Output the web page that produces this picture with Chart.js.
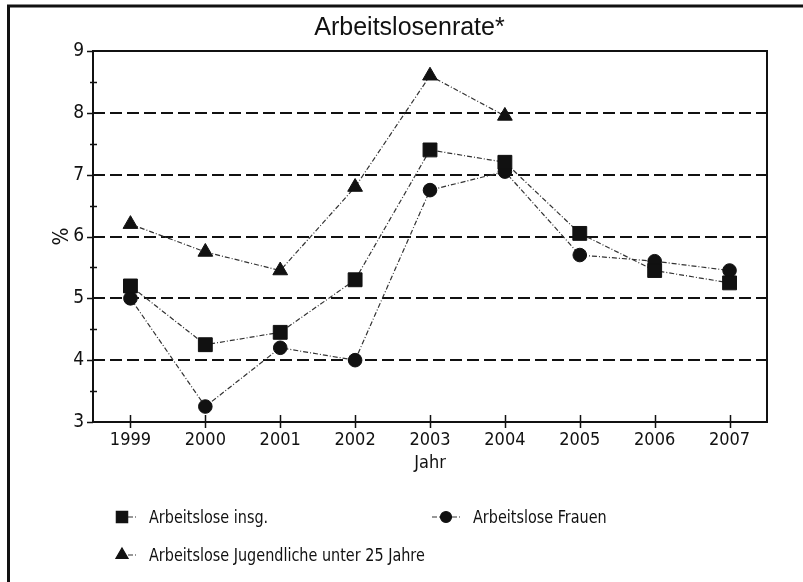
<!DOCTYPE html>
<html>
<head>
<meta charset="utf-8">
<title>Arbeitslosenrate</title>
<script src="https://cdn.jsdelivr.net/npm/chart.js@4.4.1/dist/chart.umd.min.js"></script>
<style>
    html, body { margin: 0; padding: 0; background: #fff; }
    #wrap { width: 803px; height: 582px; }
</style>
</head>
<body>
<div id="wrap"><canvas id="rate-chart" width="803" height="582"></canvas></div>
<script>
// Data
const years = ['1999', '2000', '2001', '2002', '2003', '2004', '2005', '2006', '2007'];
const insgesamt = [5.2, 4.25, 4.45, 5.3, 7.4, 7.2, 6.05, 5.45, 5.25];
const frauen = [5.0, 3.25, 4.2, 4.0, 6.75, 7.05, 5.7, 5.6, 5.45];
const jugendliche = [6.2, 5.75, 5.45, 6.8, 8.6, 7.95, null, null, null];
const seriesLabels = ['Arbeitslose insg.', 'Arbeitslose Frauen', 'Arbeitslose Jugendliche unter 25 Jahre'];
const yMin = 3;
const yMax = 9;

// Fonts
const narrow = "'DejaVu Sans Condensed', 'Liberation Sans', sans-serif";
const ink = '#111';
const lineInk = '#333';

// Legend slots (two columns, second row only left)
const legendSlots = [
    { x: 122, y: 517 },
    { x: 446, y: 517 },
    { x: 122, y: 555 }
];

// Scan border + plot frame + tick marks
const framePlugin = {
    id: 'frame',
    beforeDraw(chart) {
        const ctx = chart.ctx;
        ctx.save();
        ctx.fillStyle = '#fff';
        ctx.fillRect(0, 0, chart.width, chart.height);
        ctx.strokeStyle = ink;
        ctx.lineWidth = 3;
        ctx.beginPath();
        ctx.moveTo(8.5, chart.height);
        ctx.lineTo(8.5, 6);
        ctx.lineTo(chart.width, 6);
        ctx.stroke();
        ctx.restore();
    },
    beforeDatasetsDraw(chart) {
        const { ctx, chartArea: a } = chart;
        const x = chart.scales.x;
        const y = chart.scales.y;
        ctx.save();
        ctx.strokeStyle = ink;
        ctx.lineWidth = 2;
        ctx.strokeRect(a.left, a.top, a.right - a.left, a.bottom - a.top);

        ctx.lineWidth = 1.5;
        ctx.beginPath();
        x.ticks.forEach((t, i) => {
            const px = Math.round(x.getPixelForTick(i)) + 0.5;
            ctx.moveTo(px, a.bottom - 7);
            ctx.lineTo(px, a.bottom + 6);
        });
        y.ticks.forEach(t => {
            const py = Math.round(y.getPixelForValue(t.value)) + 0.5;
            if (Number.isInteger(t.value)) {
                ctx.moveTo(a.left - 6, py);
                ctx.lineTo(a.left, py);
            } else {
                ctx.moveTo(a.left - 3, py);
                ctx.lineTo(a.left + 4, py);
            }
        });
        ctx.stroke();
        ctx.restore();
    }
};

// Legend drawn in a grid below the axis
const gridLegendPlugin = {
    id: 'gridLegend',
    afterDraw(chart) {
        const ctx = chart.ctx;
        ctx.save();
        chart.data.datasets.forEach((ds, i) => {
            const slot = legendSlots[i];
            if (!slot) return;
            ctx.strokeStyle = ds.borderColor;
            ctx.lineWidth = 1.2;
            ctx.setLineDash(ds.borderDash || []);
            ctx.beginPath();
            ctx.moveTo(slot.x - (i === 1 ? 14 : 4), slot.y);
            ctx.lineTo(slot.x + 14, slot.y);
            ctx.stroke();
            ctx.setLineDash([]);

            ctx.fillStyle = ds.pointBackgroundColor;
            ctx.strokeStyle = ds.pointBorderColor;
            Chart.helpers.drawPoint(ctx, {
                pointStyle: ds.pointStyle,
                radius: ds.legendRadius,
                rotation: 0,
                borderWidth: 1
            }, slot.x, slot.y);

            // condensed text: squeeze horizontally
            ctx.save();
            ctx.translate(slot.x + 27, slot.y + 1);
            ctx.scale(0.89, 1);
            ctx.fillStyle = ink;
            ctx.font = '18px ' + narrow;
            ctx.textAlign = 'left';
            ctx.textBaseline = 'middle';
            ctx.fillText(ds.label, 0, 0);
            ctx.restore();
        });
        ctx.restore();
    }
};

// Chart initialization
function initChart() {
    const ctx = document.getElementById('rate-chart').getContext('2d');

    const lineStyle = {
        borderColor: lineInk,
        borderWidth: 1.2,
        borderDash: [5, 2, 1, 2],
        pointBackgroundColor: ink,
        pointBorderColor: ink,
        pointBorderWidth: 1,
        tension: 0,
        fill: false
    };

    new Chart(ctx, {
        type: 'line',
        data: {
            labels: years,
            datasets: [
                { ...lineStyle, label: seriesLabels[0], data: insgesamt, pointStyle: 'rect', pointRadius: 9.8, legendRadius: 8 },
                { ...lineStyle, label: seriesLabels[1], data: frauen, pointStyle: 'circle', pointRadius: 6.8, legendRadius: 5.5 },
                { ...lineStyle, label: seriesLabels[2], data: jugendliche, pointStyle: 'triangle', pointRadius: 8.5, legendRadius: 7 }
            ]
        },
        options: {
            responsive: false,
            animation: false,
            layout: {
                padding: { left: 52, right: 36, top: 0, bottom: 108 }
            },
            plugins: {
                legend: { display: false },
                tooltip: { enabled: false },
                title: {
                    display: true,
                    text: 'Arbeitslosenrate*',
                    color: ink,
                    font: { family: "'Liberation Sans', Arial, sans-serif", size: 25, weight: 'normal', lineHeight: 1.2 },
                    padding: { top: 13, bottom: 8 }
                }
            },
            scales: {
                x: {
                    type: 'category',
                    offset: true,
                    grid: { display: false, drawTicks: false },
                    border: { display: false },
                    ticks: {
                        color: ink,
                        padding: 8,
                        font: { family: narrow, size: 18 }
                    },
                    title: {
                        display: true,
                        text: 'Jahr',
                        color: ink,
                        padding: 0,
                        font: { family: narrow, size: 18, lineHeight: 1.2 }
                    },
                    afterFit(scale) { scale.height = 52; }
                },
                y: {
                    min: yMin,
                    max: yMax,
                    grid: {
                        drawTicks: false,
                        lineWidth: 2,
                        color: (c) => {
                            const v = c.tick ? c.tick.value : null;
                            return (Number.isInteger(v) && v > yMin && v < yMax) ? ink : 'rgba(0,0,0,0)';
                        }
                    },
                    border: { display: false, dash: [12, 5] },
                    ticks: {
                        stepSize: 0.5,
                        color: ink,
                        padding: 9,
                        font: { family: narrow, size: 19 },
                        callback: (v) => Number.isInteger(v) ? String(v) : ''
                    },
                    title: {
                        display: true,
                        text: '%',
                        color: ink,
                        padding: 0,
                        font: { family: narrow, size: 21, lineHeight: 1 }
                    },
                    afterFit(scale) { scale.width = 41; }
                }
            }
        },
        plugins: [framePlugin, gridLegendPlugin]
    });
}

initChart();
</script>
</body>
</html>
